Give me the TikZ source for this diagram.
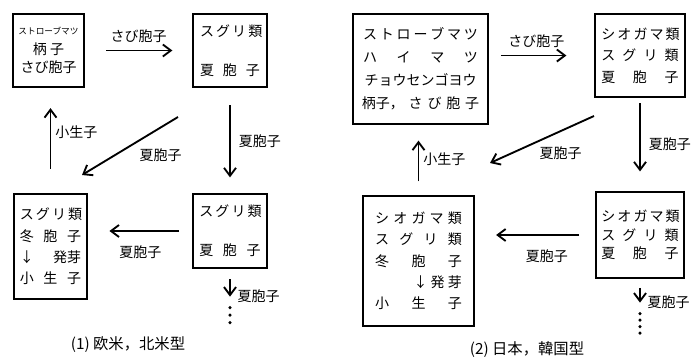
\documentclass[tikz,border=0pt]{standalone}
\usepackage{fontspec}
\setmainfont{Noto Sans CJK JP}
\usetikzlibrary{arrows.meta,positioning,calc}
\newcommand{\spreadline}[2]{\makebox[#1][s]{#2}}
\tikzset{
  stage/.style={draw,line width=1.4pt,inner sep=0pt,align=center,font=\fontsize{10.5}{16}\selectfont},
  cyc/.style={line width=1.4pt,-{Straight Barb[length=6pt,width=9pt]}},
  lab/.style={font=\fontsize{10.5}{12}\selectfont,inner sep=1pt},
  capt/.style={font=\fontsize{11.5}{13}\selectfont}
}

\begin{document}
\begin{tikzpicture}[x=0.75pt,y=-0.75pt]
\useasboundingbox (0,0) rectangle (695,358);
\node[stage,minimum width=53pt,minimum height=55pt] (pine1) at (48.5,50.5) {{\fontsize{6.5}{8}\selectfont ストローブマツ}\\[-1pt]柄 子\\[-3pt]さび胞子};
\node[stage,minimum width=55pt,minimum height=55pt] (ribes1) at (230,50.5) {\spreadline{45pt}{ス グ リ 類}\\[13pt]\spreadline{45pt}{夏 胞 子}};
\node[stage,minimum width=55pt,minimum height=55pt] (ribes2) at (230,231) {\spreadline{46pt}{ス グ リ 類}\\[13pt]\spreadline{46pt}{夏 胞 子}};
\node[stage,minimum width=55pt,minimum height=79pt] (telia1) at (50.5,246.5) {\spreadline{46pt}{ス グ リ 類}\\\spreadline{46pt}{冬 胞 子}\\\spreadline{46pt}{↓ 発芽}\\\spreadline{46pt}{小 生 子}};
\draw[cyc,shorten <=16pt,shorten >=15pt] (pine1) -- node[lab,above=4pt] (l1) {さび胞子} (ribes1);
\draw[cyc,shorten <=13pt,shorten >=12pt] (ribes1) -- node[lab,right=5pt] (l2) {夏胞子} (ribes2);
\coordinate (d1s) at (178,117);
\coordinate (d1e) at (82,175);
\draw[cyc] (d1s) -- node[lab,pos=.18,below=14pt] (l3) {夏胞子} (d1e);
\draw[cyc,shorten <=10pt,shorten >=16pt] (ribes2) -- node[lab,below=9pt] (l4) {夏胞子} (ribes2 -| telia1.east);
\draw[cyc,shorten <=18pt,shorten >=15pt] (telia1) -- node[lab,right=2pt,pos=.58] (l5) {小生子} (telia1 |- pine1.south);
\coordinate (more1) at ($(ribes2.south)+(0,28)$);
\draw[cyc,shorten <=8pt] (ribes2) -- (more1) node[lab,right=4pt] (l6) {夏胞子};
\foreach \k in {0,1,2}{\fill ($(more1)+(0,11+7.5*\k)$) circle (1.3pt);}
\node[capt] (cap1) at (128,345) {(1) 欧米，北米型};

\node[stage,minimum width=101pt,minimum height=82pt] (pine2) at (420.5,69) {\spreadline{86pt}{ス ト ロ ー ブ マ ツ}\\[1.2pt]\spreadline{86pt}{ハ イ マ ツ}\\[1.2pt]チョウセンゴヨウ\\[1.2pt]\spreadline{88pt}{柄子， さ び 胞 子}};
\node[stage,minimum width=67pt,minimum height=62pt] (eu1) at (640,55.5) {\spreadline{58pt}{シ オ ガ マ 類}\\\spreadline{58pt}{ス グ リ 類}\\\spreadline{58pt}{夏 胞 子}};
\node[stage,minimum width=66pt,minimum height=64pt] (eu2) at (640,235) {\spreadline{58pt}{シ オ ガ マ 類}\\[-2pt]\spreadline{58pt}{ス グ リ 類}\\[-2pt]\spreadline{58pt}{夏 胞 子}};
\node[stage,minimum width=83pt,minimum height=98pt] (telia2) at (418.5,261) {\spreadline{65pt}{シ オ ガ マ 類}\\\spreadline{65pt}{ス グ リ 類}\\\spreadline{65pt}{冬 胞 子}\\\makebox[65pt][r]{↓ 発 芽}\\\spreadline{65pt}{小 生 子}};
\draw[cyc,shorten <=9pt,shorten >=21pt] (pine2.east |- eu1) -- node[lab,above=4pt,pos=.45] (r1) {さび胞子} (eu1);
\draw[cyc,shorten <=4pt,shorten >=15pt] (eu1) -- node[lab,right=5pt] (r2) {夏胞子} (eu2);
\coordinate (d2s) at (594,116);
\coordinate (d2e) at (490,163);
\draw[cyc] (d2s) -- node[lab,pos=.32,below=10pt] (r3) {夏胞子} (d2e);
\draw[cyc,shorten <=12pt,shorten >=16pt] (eu2) -- node[lab,below=9pt,pos=.4] (r4) {夏胞子} (eu2 -| telia2.east);
\draw[cyc,shorten <=10pt,shorten >=12pt] (telia2) -- node[lab,right=2pt] (r5) {小生子} (telia2 |- pine2.south);
\coordinate (more2) at ($(eu2.south)+(0,24)$);
\draw[cyc,shorten <=7pt] (eu2) -- (more2) node[lab,right=4pt] (r6) {夏胞子};
\foreach \k in {0,1,2,3}{\fill ($(more2)+(0,11+6.5*\k)$) circle (1.3pt);}
\node[capt] (cap2) at (527,350) {(2) 日本，韓国型};
\end{tikzpicture}
\end{document}
